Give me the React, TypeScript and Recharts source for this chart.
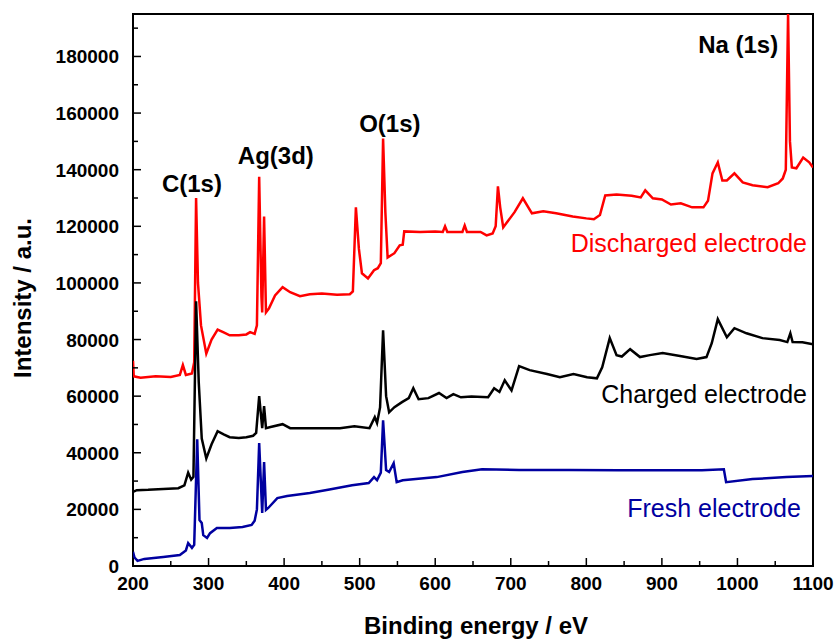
import { LineChart, Line, XAxis, YAxis, ReferenceArea, ReferenceDot, Label } from 'recharts';

const FONT = '"Liberation Sans", Arial, sans-serif';

// ─── Discharged electrode (red) ──────────────────────────────────────────────
const dischargedEnergy = [
  200, 201, 210, 230, 250, 262, 266, 270, 278, 281, 283.5, 286, 290, 297, 304, 312, 320, 328, 340, 350,
  355, 361, 364, 367, 370, 371, 373.5, 376, 380, 388, 398, 408, 421, 434, 450, 470, 487, 491, 495, 499,
  503, 511, 519, 524, 528, 531, 534, 537, 546, 553, 557, 559, 580, 600, 610, 613, 616, 636, 639, 642,
  660, 668, 676, 680, 683, 686, 690, 695, 705, 716, 728, 743, 760, 782, 800, 810, 818, 825, 840, 860,
  872, 878, 888, 900, 912, 925, 940, 955, 961, 967, 974, 980, 986, 996, 1007, 1020, 1040, 1054, 1060, 1064,
  1067, 1069.5, 1072, 1078, 1087, 1095, 1100,
];
const dischargedIntensity = [
  72500, 67000, 66500, 67000, 66800, 67500, 71000, 67500, 68000, 72000, 130000, 100000, 85000, 75000, 80000, 83500, 82500, 81500, 81500, 81800,
  82600, 82000, 85000, 137500, 95000, 89600, 123500, 89600, 91000, 95600, 98500, 96700, 95300, 96000, 96300, 95800, 96000, 97000, 126700, 112000,
  103400, 101600, 104500, 105200, 107000, 151000, 125000, 109000, 110500, 113300, 113500, 118200, 118000, 118200, 118000, 120000, 118000, 118000, 120300, 118000,
  118000, 116800, 117500, 120000, 134100, 126700, 119600, 121400, 125000, 129900, 124600, 125300, 124600, 123500, 122800, 122500, 124000, 130900, 131200, 130800,
  130200, 132700, 129900, 129500, 127700, 128100, 126700, 126700, 129000, 138700, 142600, 136200, 136200, 138700, 135500, 134500, 133800, 135200, 136900, 140000,
  195000, 150000, 140800, 140500, 144300, 142600, 140800,
];

// ─── Charged electrode (black) ───────────────────────────────────────────────
const chargedEnergy = [
  200, 205, 220, 240, 260, 268, 273, 277, 280, 283.5, 287, 291, 297, 304, 312, 320, 328, 340, 350, 359,
  363, 367, 371, 373.5, 376, 382, 398, 408, 434, 474, 493, 513, 520, 523, 527, 531, 535, 539, 546, 556,
  565, 571, 578, 591, 605, 615, 624, 634, 648, 670, 678, 685, 692, 701, 711, 725, 748, 765, 783, 801,
  814, 821, 831, 840, 847, 858, 871, 884, 901, 924, 946, 959, 966, 974, 986, 996, 1012, 1033, 1056, 1066,
  1070, 1073, 1086, 1100,
];
const chargedIntensity = [
  26200, 26800, 26900, 27200, 27500, 28500, 33000, 30500, 31500, 93500, 65000, 45000, 38000, 43000, 47600, 46500, 45500, 45200, 45500, 46000,
  47000, 60000, 48700, 56500, 48700, 49100, 50100, 48700, 48700, 48700, 49400, 48700, 52600, 50500, 56000, 83300, 60000, 54300, 56100, 57900,
  59300, 62800, 58900, 59300, 61100, 59300, 60700, 59600, 59900, 59600, 62800, 61500, 65600, 62000, 70600, 69200, 67800, 66700, 67800, 66700,
  66300, 70200, 80500, 74500, 74000, 76600, 73800, 74500, 75200, 74200, 73100, 73800, 78700, 87200, 80800, 84000, 82200, 80500, 79800, 79100,
  82200, 79100, 79000, 78300,
];

// ─── Fresh electrode (blue) ──────────────────────────────────────────────────
const freshEnergy = [
  200, 202, 206, 215, 240, 262, 270, 273, 278, 281, 285, 288, 291, 293, 298, 302, 311, 328, 345, 357,
  361, 364, 367, 371, 373.5, 376, 379, 391, 404, 434, 460, 490, 512, 519, 523, 528, 531, 535, 539, 545,
  549, 557, 602, 636, 662, 711, 777, 843, 909, 953, 982, 985, 1020, 1065, 1100,
];
const freshIntensity = [
  5000, 3000, 1800, 2500, 3200, 3900, 5500, 8100, 6400, 7500, 44800, 16200, 15200, 10900, 9900, 11600, 13400, 13400, 13800, 14500,
  16000, 20000, 43400, 18700, 36700, 19800, 20500, 24000, 24700, 25800, 27000, 28500, 29300, 31400, 30300, 33000, 51500, 33900, 33200, 36300,
  29600, 30300, 31400, 33200, 34200, 33900, 33900, 33800, 33800, 33800, 34200, 29600, 30700, 31400, 31800,
];

// ─── Axes ────────────────────────────────────────────────────────────────────
const xTicks = [200, 250, 300, 350, 400, 450, 500, 550, 600, 650, 700, 750, 800, 850, 900, 950, 1000, 1050, 1100];
const yTicks = [
  0, 10000, 20000, 30000, 40000, 50000, 60000, 70000, 80000, 90000, 100000,
  110000, 120000, 130000, 140000, 150000, 160000, 170000, 180000, 190000,
];

const toPoints = (xs: number[], ys: number[]) => xs.map((e, i) => ({ energy: e, intensity: ys[i] }));

const discharged = toPoints(dischargedEnergy, dischargedIntensity);
const charged = toPoints(chargedEnergy, chargedIntensity);
const fresh = toPoints(freshEnergy, freshIntensity);

function XTick({ x, y, payload }: any) {
  const major = payload.value % 100 === 0;
  return (
    <g>
      <line x1={x} x2={x} y1={y} y2={y - (major ? 8 : 5)} stroke="#000" strokeWidth={1.5} />
      {major && (
        <text x={x} y={y + 24} textAnchor="middle" fontSize={19} fontWeight="bold" fontFamily={FONT} fill="#000">
          {payload.value}
        </text>
      )}
    </g>
  );
}

function YTick({ x, y, payload }: any) {
  const major = payload.value % 20000 === 0;
  return (
    <g>
      <line x1={x} x2={x + (major ? 8 : 5)} y1={y} y2={y} stroke="#000" strokeWidth={1.5} />
      {major && (
        <text x={x - 14} y={y + 7} textAnchor="end" fontSize={19} fontWeight="bold" fontFamily={FONT} fill="#000">
          {payload.value}
        </text>
      )}
    </g>
  );
}

const peakLabel = { fontSize: 24, fontWeight: 'bold', fontFamily: FONT, fill: '#000' };
const seriesLabel = { fontSize: 25, fontFamily: FONT };

export default function App() {
  return (
    <div style={{ position: 'absolute', left: 0, top: 0, width: 838, height: 641, background: '#fff' }}>
      <LineChart width={838} height={641} margin={{ top: 14, right: 25, left: 0, bottom: 0 }}>
        <XAxis
          type="number"
          dataKey="energy"
          domain={[200, 1100]}
          ticks={xTicks}
          interval={0}
          allowDataOverflow
          height={75}
          axisLine={false}
          tickLine={false}
          tickSize={0}
          tickMargin={0}
          tick={(p: any) => <XTick {...p} />}
        >
          <Label
            content={() => (
              <text x={476} y={634} textAnchor="middle" fontSize={24} fontWeight="bold" fontFamily={FONT} fill="#000">
                Binding energy / eV
              </text>
            )}
          />
        </XAxis>
        <YAxis
          type="number"
          dataKey="intensity"
          domain={[0, 195000]}
          ticks={yTicks}
          interval={0}
          allowDataOverflow
          width={133}
          axisLine={false}
          tickLine={false}
          tickSize={0}
          tickMargin={0}
          tick={(p: any) => <YTick {...p} />}
        >
          <Label
            content={() => (
              <text
                x={31}
                y={298}
                transform="rotate(-90, 31, 298)"
                textAnchor="middle"
                fontSize={24}
                fontWeight="bold"
                fontFamily={FONT}
                fill="#000"
              >
                Intensity / a.u.
              </text>
            )}
          />
        </YAxis>

        <ReferenceArea x1={200} x2={1100} y1={0} y2={195000} fill="none" stroke="#000" strokeWidth={2} />

        <Line data={discharged} dataKey="intensity" stroke="#ff0000" strokeWidth={2.5} dot={false} isAnimationActive={false} />
        <Line data={charged} dataKey="intensity" stroke="#000000" strokeWidth={2.5} dot={false} isAnimationActive={false} />
        <Line data={fresh} dataKey="intensity" stroke="#0000a0" strokeWidth={2.5} dot={false} isAnimationActive={false} />

        <ReferenceDot x={278} y={135200} r={0} fill="none" stroke="none">
          <Label value="C(1s)" position="center" {...peakLabel} />
        </ReferenceDot>
        <ReferenceDot x={389} y={145000} r={0} fill="none" stroke="none">
          <Label value="Ag(3d)" position="center" {...peakLabel} />
        </ReferenceDot>
        <ReferenceDot x={540} y={156300} r={0} fill="none" stroke="none">
          <Label value="O(1s)" position="center" {...peakLabel} />
        </ReferenceDot>
        <ReferenceDot x={1001} y={184200} r={0} fill="none" stroke="none">
          <Label value="Na (1s)" position="center" {...peakLabel} />
        </ReferenceDot>

        <ReferenceDot x={1092} y={114000} r={0} fill="none" stroke="none">
          <Label value="Discharged electrode" position="left" offset={0} fill="#ff0000" {...seriesLabel} />
        </ReferenceDot>
        <ReferenceDot x={1092} y={60700} r={0} fill="none" stroke="none">
          <Label value="Charged electrode" position="left" offset={0} fill="#000" {...seriesLabel} />
        </ReferenceDot>
        <ReferenceDot x={1084} y={20500} r={0} fill="none" stroke="none">
          <Label value="Fresh electrode" position="left" offset={0} fill="#0000a0" {...seriesLabel} />
        </ReferenceDot>
      </LineChart>
    </div>
  );
}
